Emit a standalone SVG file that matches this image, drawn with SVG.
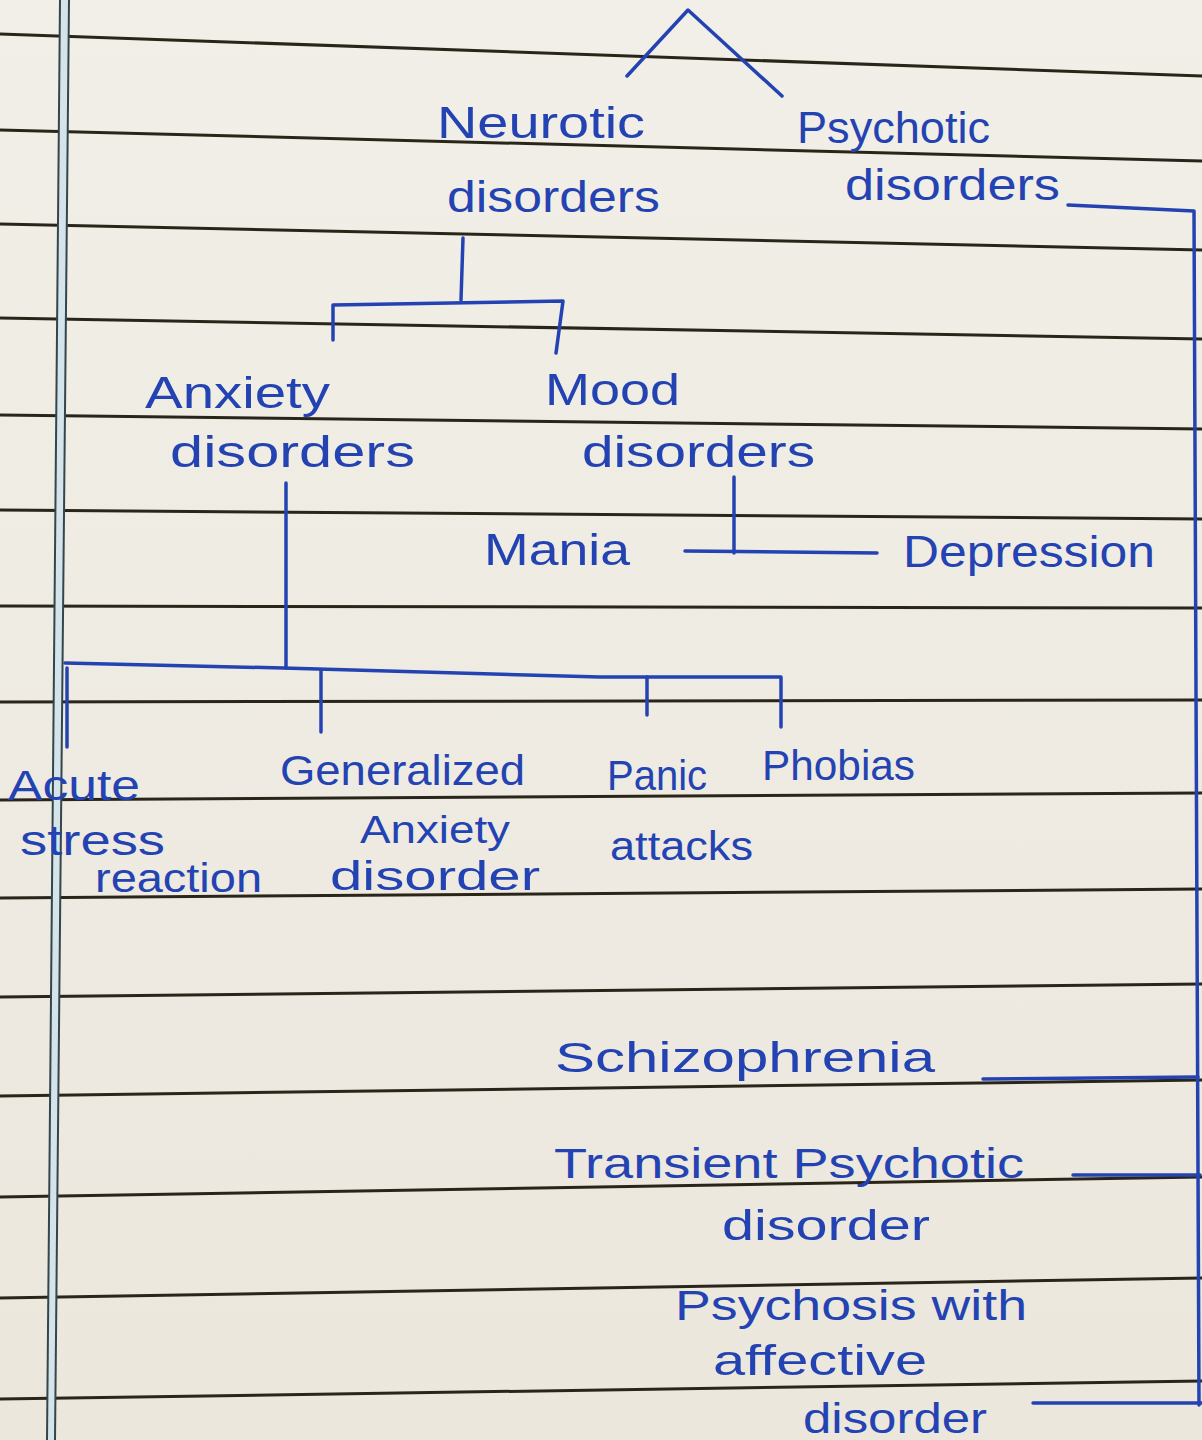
<svg xmlns="http://www.w3.org/2000/svg" width="1202" height="1440" viewBox="0 0 1202 1440">
  <defs>
    <linearGradient id="paper" x1="0" y1="0" x2="0" y2="1">
      <stop offset="0" stop-color="#f2efe8"/>
      <stop offset="1" stop-color="#ebe7dd"/>
    </linearGradient>
  </defs>
  <style>
    .rule { stroke: #2a2519; stroke-width: 3; fill: none; }
    .margin { stroke: #34464c; stroke-width: 2; fill: none; }
    .ink { stroke: #2443b2; stroke-width: 3.5; fill: none; stroke-linecap: round; stroke-linejoin: round; }
    text { font-family: "Liberation Sans", Arial, sans-serif; fill: #2443b2; font-size: 44px; }
    .s42 { font-size: 42px; }
    .s40 { font-size: 40px; }
    .s38 { font-size: 38px; }
  </style>

  <rect x="0" y="0" width="1202" height="1440" fill="url(#paper)"/>

  <g id="ruled-lines">
    <path class="rule" d="M0,34 L1202,76"/>
    <path class="rule" d="M0,130 L1202,161"/>
    <path class="rule" d="M0,224 L1202,250"/>
    <path class="rule" d="M0,318 L1202,339"/>
    <path class="rule" d="M0,415 L1202,429"/>
    <path class="rule" d="M0,510 L1202,519"/>
    <path class="rule" d="M0,606 L1202,608"/>
    <path class="rule" d="M0,702 L1202,700"/>
    <path class="rule" d="M0,800 L1202,793"/>
    <path class="rule" d="M0,898 L1202,889"/>
    <path class="rule" d="M0,997 L1202,984"/>
    <path class="rule" d="M0,1096 L1202,1080"/>
    <path class="rule" d="M0,1197 L1202,1177"/>
    <path class="rule" d="M0,1298 L1202,1278"/>
    <path class="rule" d="M0,1399 L1202,1381"/>
  </g>

  <g id="margin">
    <polygon points="60,0 69,0 55,1440 47,1440" fill="#d5e3ea"/>
    <path class="margin" d="M60,0 L47,1440"/>
    <path class="margin" d="M69,0 L55,1440"/>
  </g>

  <g id="connectors">
    <path class="ink" d="M627,76 L688,10 L782,96"/>
    <path class="ink" d="M463,238 L461,300"/>
    <path class="ink" d="M333,340 L333,305 L563,301 L556,353"/>
    <path class="ink" d="M1068,205 L1194,211 L1199,1405"/>
    <path class="ink" d="M734,477 L734,553"/>
    <path class="ink" d="M685,551 L877,553"/>
    <path class="ink" d="M286,483 L286,668"/>
    <path class="ink" d="M65,663 L283,668 L600,677 L781,677 L781,727"/>
    <path class="ink" d="M67,668 L67,747"/>
    <path class="ink" d="M321,670 L321,732"/>
    <path class="ink" d="M647,677 L647,715"/>
    <path class="ink" d="M983,1079 L1198,1077"/>
    <path class="ink" d="M1073,1175 L1200,1175" stroke-width="4.5"/>
    <path class="ink" d="M1033,1403 L1202,1403"/>
  </g>

  <g id="neurotic">
    <text x="437" y="138" textLength="208" lengthAdjust="spacingAndGlyphs">Neurotic</text>
    <text x="447" y="212" textLength="213" lengthAdjust="spacingAndGlyphs">disorders</text>
  </g>
  <g id="psychotic">
    <text x="797" y="143" textLength="193" lengthAdjust="spacingAndGlyphs">Psychotic</text>
    <text x="845" y="200" textLength="215" lengthAdjust="spacingAndGlyphs">disorders</text>
  </g>
  <g id="anxiety">
    <text x="145" y="408" textLength="185" lengthAdjust="spacingAndGlyphs">Anxiety</text>
    <text x="170" y="467" textLength="245" lengthAdjust="spacingAndGlyphs">disorders</text>
  </g>
  <g id="mood">
    <text x="545" y="405" textLength="135" lengthAdjust="spacingAndGlyphs">Mood</text>
    <text x="582" y="467" textLength="233" lengthAdjust="spacingAndGlyphs">disorders</text>
  </g>
  <g id="mania">
    <text x="484" y="565" textLength="146" lengthAdjust="spacingAndGlyphs">Mania</text>
  </g>
  <g id="depression">
    <text x="903" y="567" textLength="252" lengthAdjust="spacingAndGlyphs">Depression</text>
  </g>
  <g id="acute-stress">
    <text class="s42" x="8" y="800" textLength="132" lengthAdjust="spacingAndGlyphs">Acute</text>
    <text class="s42" x="20" y="855" textLength="145" lengthAdjust="spacingAndGlyphs">stress</text>
    <text class="s40" x="95" y="892" textLength="167" lengthAdjust="spacingAndGlyphs">reaction</text>
  </g>
  <g id="generalized">
    <text class="s42" x="280" y="785" textLength="245" lengthAdjust="spacingAndGlyphs">Generalized</text>
    <text class="s38" x="360" y="843" textLength="150" lengthAdjust="spacingAndGlyphs">Anxiety</text>
    <text class="s40" x="330" y="890" textLength="210" lengthAdjust="spacingAndGlyphs">disorder</text>
  </g>
  <g id="panic">
    <text class="s42" x="607" y="790" textLength="100" lengthAdjust="spacingAndGlyphs">Panic</text>
    <text class="s40" x="610" y="860" textLength="143" lengthAdjust="spacingAndGlyphs">attacks</text>
  </g>
  <g id="phobias">
    <text class="s42" x="762" y="780" textLength="153" lengthAdjust="spacingAndGlyphs">Phobias</text>
  </g>
  <g id="schizophrenia">
    <text class="s42" x="555" y="1072" textLength="380" lengthAdjust="spacingAndGlyphs">Schizophrenia</text>
  </g>
  <g id="transient">
    <text class="s42" x="554" y="1178" textLength="470" lengthAdjust="spacingAndGlyphs">Transient Psychotic</text>
    <text class="s42" x="722" y="1240" textLength="208" lengthAdjust="spacingAndGlyphs">disorder</text>
  </g>
  <g id="psychosis-affective">
    <text class="s42" x="675" y="1320" textLength="352" lengthAdjust="spacingAndGlyphs">Psychosis with</text>
    <text class="s42" x="713" y="1375" textLength="214" lengthAdjust="spacingAndGlyphs">affective</text>
    <text class="s42" x="803" y="1433" textLength="184" lengthAdjust="spacingAndGlyphs">disorder</text>
  </g>
</svg>
